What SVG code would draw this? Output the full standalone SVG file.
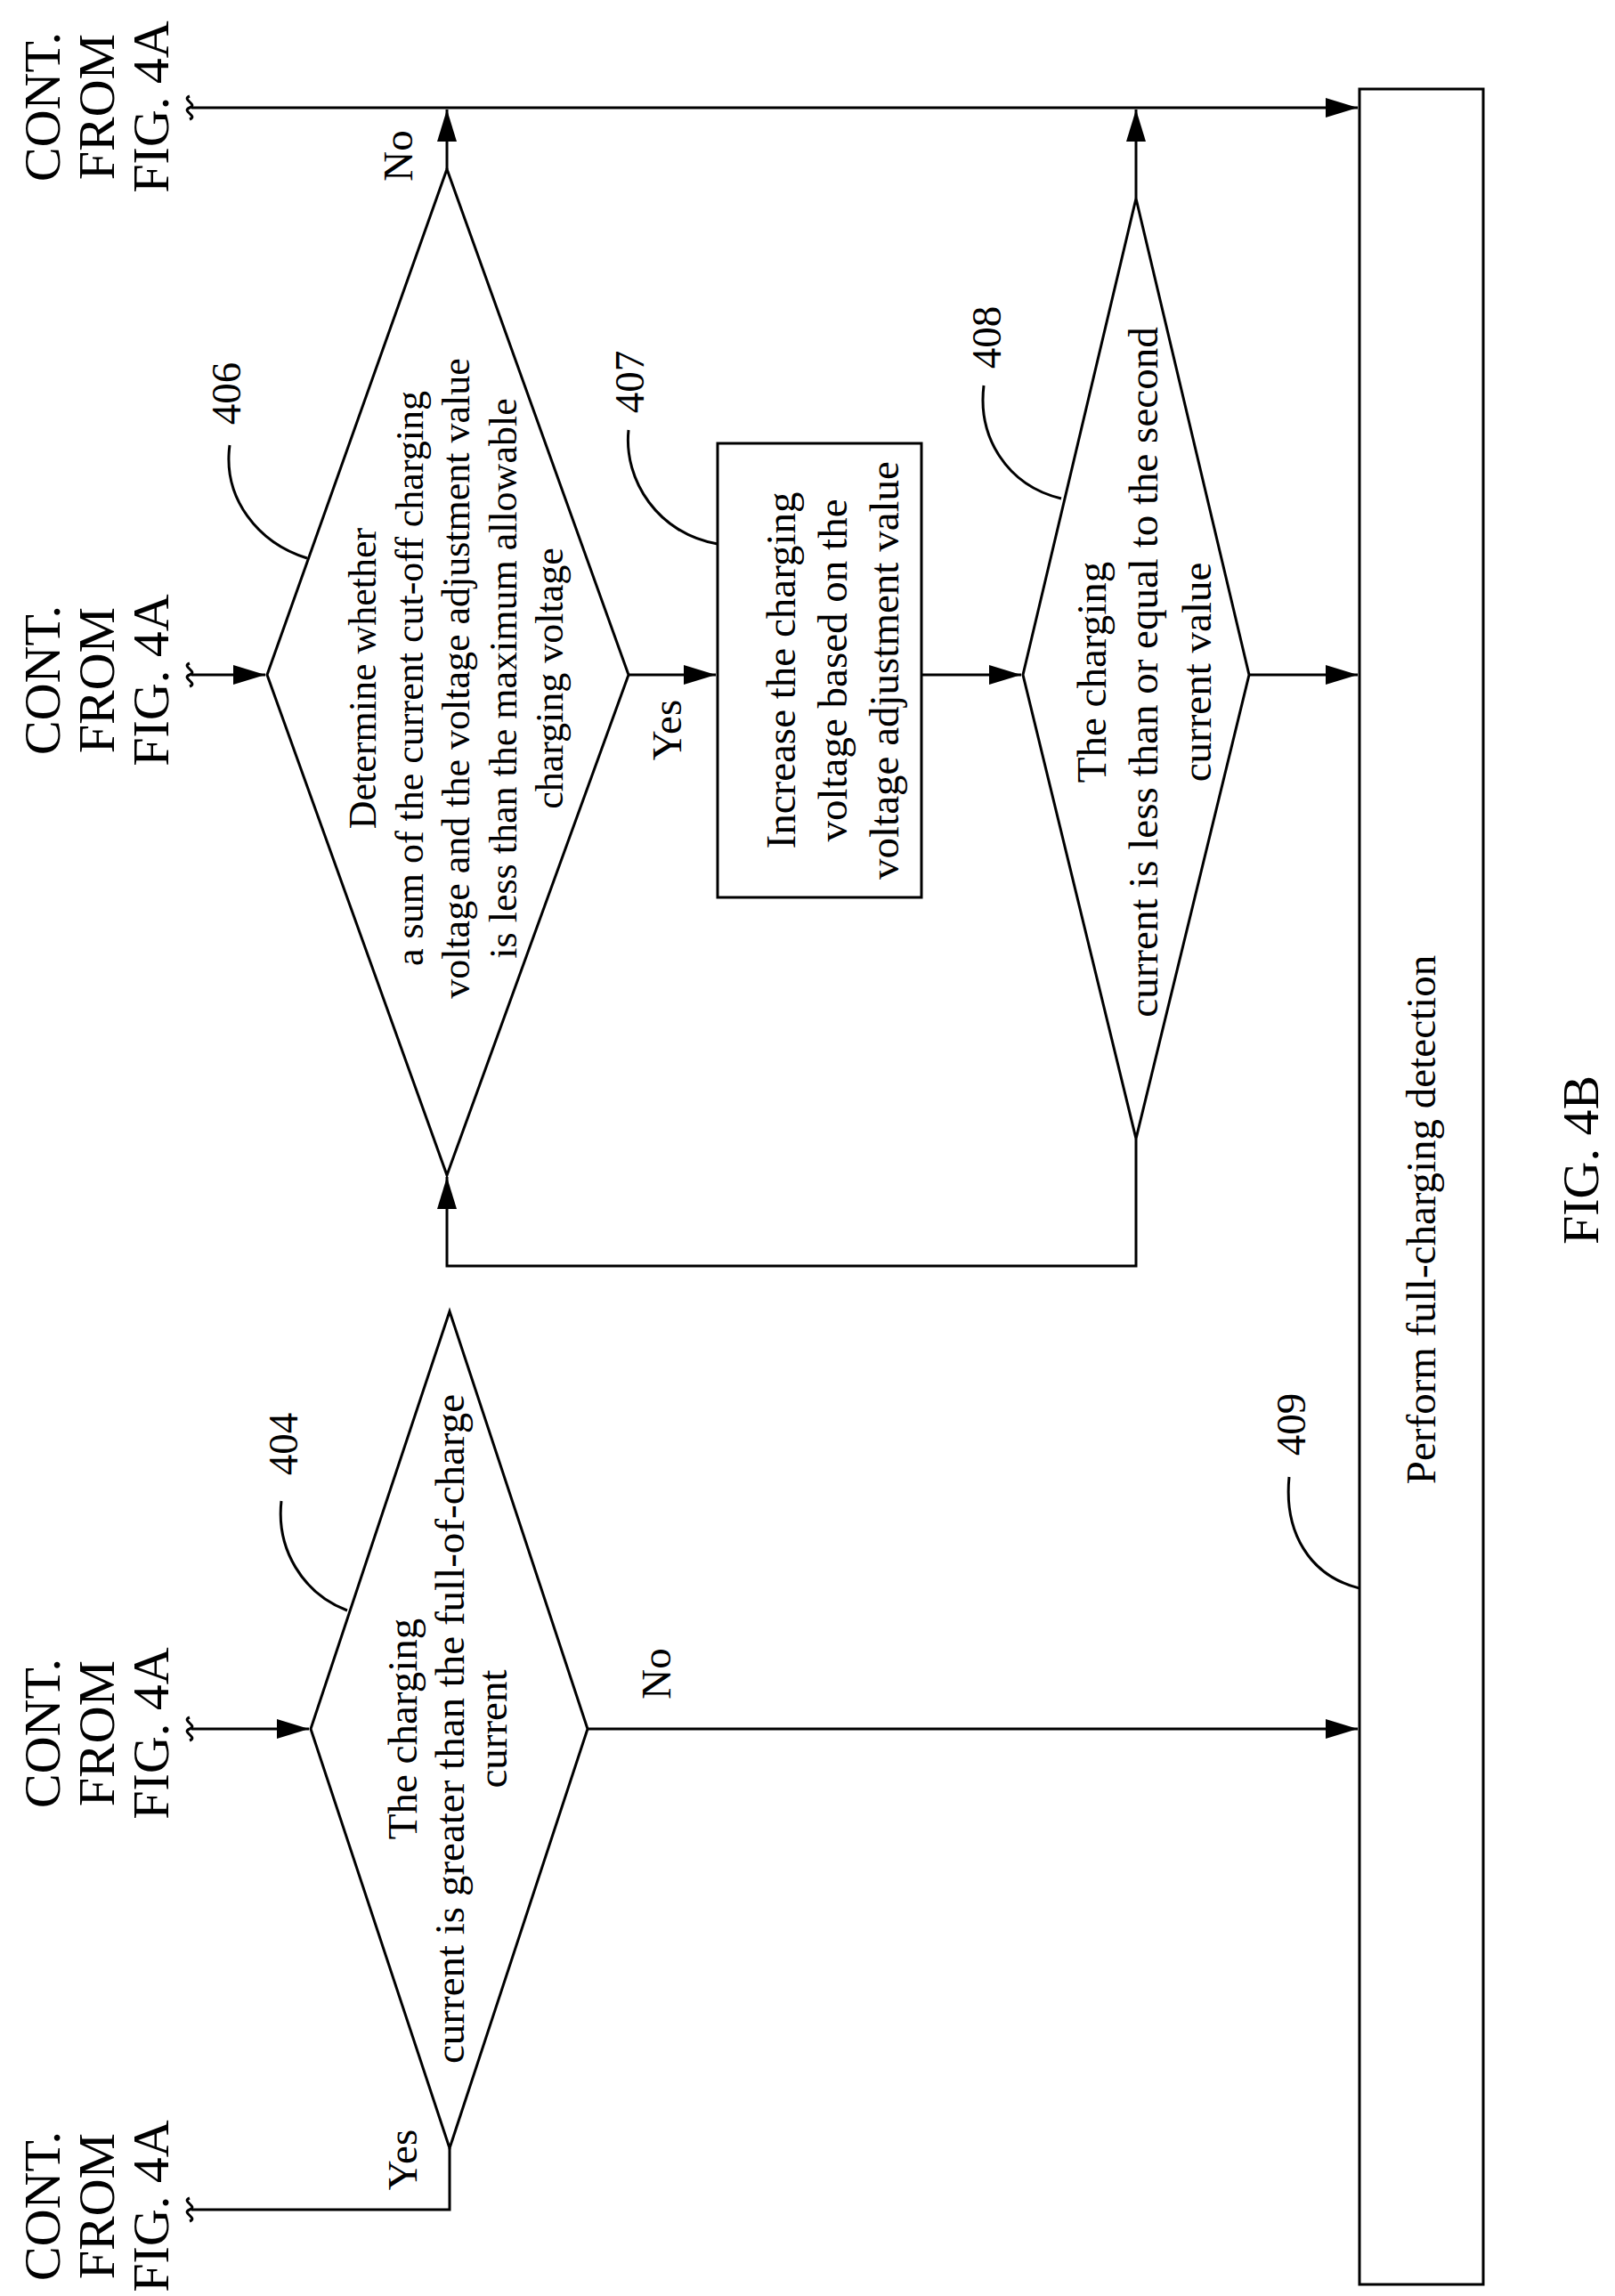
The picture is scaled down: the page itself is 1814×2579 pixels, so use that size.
<svg xmlns="http://www.w3.org/2000/svg" width="1814" height="2579" viewBox="0 0 1814 2579">
<style>
.s{fill:none;stroke:#000;stroke-width:3}
.t{font-family:"Liberation Serif",serif;font-size:47px;text-anchor:middle;fill:#000}
.u{font-family:"Liberation Serif",serif;font-size:44px;text-anchor:middle;fill:#000}
.c{font-family:"Liberation Serif",serif;font-size:58px;text-anchor:middle;fill:#000}
</style>
<defs><marker id="b" viewBox="0 0 10 10" refX="10" refY="5" markerWidth="36" markerHeight="22" markerUnits="userSpaceOnUse" orient="auto" preserveAspectRatio="none"><path d="M0,0L10,5L0,10z"/></marker></defs>
<g id="connectors" class="s">
<path d="M215,121H1525" marker-end="url(#b)"/>
<path d="M502,190V123" marker-end="url(#b)"/>
<path d="M1276,223V123" marker-end="url(#b)"/>
<path d="M215,758H298" marker-end="url(#b)"/>
<path d="M706,758H804" marker-end="url(#b)"/>
<path d="M1035,758H1147" marker-end="url(#b)"/>
<path d="M1403,758H1525" marker-end="url(#b)"/>
<path d="M1276,1279V1422H502V1322" marker-end="url(#b)"/>
<path d="M215,1942H347" marker-end="url(#b)"/>
<path d="M660,1942H1525" marker-end="url(#b)"/>
<path d="M505,2413V2482H215"/>
<path d="M258,500C250,560 290,610 345,627"/>
<path d="M706,483C700,540 740,600 806,611"/>
<path d="M1105,433C1098,490 1130,545 1192,560"/>
<path d="M316,1686C310,1740 340,1790 390,1809"/>
<path d="M1448,1659C1442,1720 1470,1770 1527,1784"/>
</g>
<g id="tildes" class="s" stroke-width="2.5">
<path d="M213,108c-10,4 10,9 0,13s10,9 0,13"/><path d="M213,745c-10,4 10,9 0,13s10,9 0,13"/><path d="M213,1929c-10,4 10,9 0,13s10,9 0,13"/><path d="M213,2469c-10,4 10,9 0,13s10,9 0,13"/>
</g>
<g id="n406"><path class="s" d="M502,190L706,758L502,1320L300,758z"/>
<text class="u" transform="translate(0,762) rotate(-90)"><tspan x="0" y="422">Determine whether</tspan><tspan x="0" y="475">a sum of the current cut-off charging</tspan><tspan x="0" y="527">voltage and the voltage adjustment value</tspan><tspan x="0" y="580">is less than the maximum allowable</tspan><tspan x="0" y="632">charging voltage</tspan></text>
<text class="t" transform="translate(270,442) rotate(-90)">406</text></g>
<g id="n407"><rect class="s" x="806" y="498" width="229" height="510"/>
<text class="t" transform="translate(0,753) rotate(-90)"><tspan x="0" y="893">Increase the charging</tspan><tspan x="0" y="951">voltage based on the</tspan><tspan x="0" y="1009">voltage adjustment value</tspan></text>
<text class="t" transform="translate(723,429) rotate(-90)">407</text></g>
<g id="n408"><path class="s" d="M1276,223L1403,758L1276,1279L1149,758z"/>
<text class="t" transform="translate(0,755) rotate(-90)"><tspan x="0" y="1242">The charging</tspan><tspan x="0" y="1300">current is less than or equal to the second</tspan><tspan x="0" y="1360">current value</tspan></text>
<text class="t" transform="translate(1124,379) rotate(-90)">408</text></g>
<g id="n404"><path class="s" d="M505,1473L660,1942L505,2413L349,1942z"/>
<text class="t" transform="translate(0,1942) rotate(-90)"><tspan x="0" y="468">The charging</tspan><tspan x="0" y="521">current is greater than the full-of-charge</tspan><tspan x="0" y="569">current</tspan></text>
<text class="t" transform="translate(334,1622) rotate(-90)">404</text></g>
<g id="n409"><rect class="s" x="1527" y="100" width="139" height="2466"/>
<text class="t" transform="translate(1612,1370) rotate(-90)">Perform full-charging detection</text>
<text class="t" transform="translate(1466,1600) rotate(-90)">409</text></g>
<g id="labels">
<text class="t" transform="translate(463,175) rotate(-90)">No</text>
<text class="t" transform="translate(765,820) rotate(-90)">Yes</text>
<text class="t" transform="translate(753,1880) rotate(-90)">No</text>
<text class="t" transform="translate(468,2426) rotate(-90)">Yes</text>
<text class="c" transform="translate(0,120) rotate(-90)"><tspan x="0" y="67">CONT.</tspan><tspan x="0" y="128">FROM</tspan><tspan x="0" y="189">FIG. 4A</tspan></text>
<text class="c" transform="translate(0,764) rotate(-90)"><tspan x="0" y="67">CONT.</tspan><tspan x="0" y="128">FROM</tspan><tspan x="0" y="189">FIG. 4A</tspan></text>
<text class="c" transform="translate(0,1947) rotate(-90)"><tspan x="0" y="67">CONT.</tspan><tspan x="0" y="128">FROM</tspan><tspan x="0" y="189">FIG. 4A</tspan></text>
<text class="c" transform="translate(0,2478) rotate(-90)"><tspan x="0" y="67">CONT.</tspan><tspan x="0" y="128">FROM</tspan><tspan x="0" y="189">FIG. 4A</tspan></text>
<text class="c" transform="translate(1795,1303) rotate(-90)">FIG. 4B</text>
</g>
</svg>
